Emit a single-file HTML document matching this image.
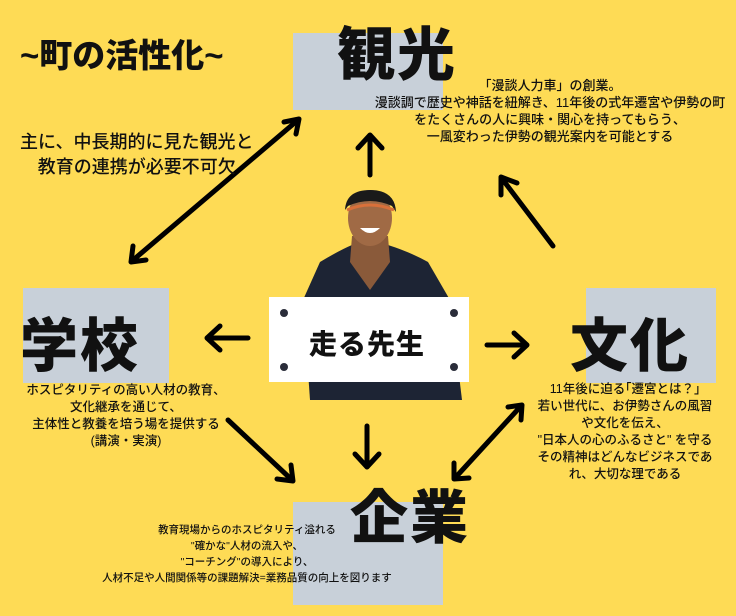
<!DOCTYPE html>
<html><head><meta charset="utf-8"><style>
body{margin:0;width:736px;height:616px;background:#fedb55;position:relative;overflow:hidden;font-family:"Liberation Sans","Noto Sans CJK JP",sans-serif;color:#111}
.g{position:absolute;background:#c8d0d9}
.t{position:absolute;white-space:nowrap}
.big{font-weight:900;font-size:58px;line-height:1;letter-spacing:2px}
.s{font-size:12.5px;line-height:17px;text-align:center;font-weight:500}
</style></head><body>
<div class="g" style="left:293px;top:33px;width:150px;height:77px"></div>
<div class="g" style="left:23px;top:288px;width:146px;height:95px"></div>
<div class="g" style="left:586px;top:288px;width:130px;height:95px"></div>
<div class="g" style="left:293px;top:502px;width:150px;height:103px"></div>

<svg width="736" height="616" style="position:absolute;left:0;top:0">
<path d="M303 300 L320 262 Q340 250 352 245 L388 245 Q410 252 428 262 L450 300 L462 400 L310 400 Z" fill="#1d2434"/>
<path d="M352 236 L388 236 L390 262 L370 290 L350 262 Z" fill="#8a5a3a"/>
<ellipse cx="370" cy="218" rx="22" ry="28" fill="#a06a45"/>
<path d="M345 210 Q346 190 370 190 Q395 190 396 212 L392 206 Q370 196 348 206 Z" fill="#1a1a1a"/>
<path d="M347 210 Q370 200 394 210" stroke="#d9703a" stroke-width="3" fill="none"/>
<path d="M360 228 Q370 238 380 228" fill="#fff"/>
<g stroke="#000" stroke-width="5" fill="none" stroke-linecap="round" stroke-linejoin="round">
<line x1="370" y1="175" x2="370" y2="136"/><polyline points="358,148 370,135 382,148"/>
<line x1="248" y1="338" x2="208" y2="338"/><polyline points="220,326 207,338 220,350"/>
<line x1="487" y1="345" x2="526" y2="345"/><polyline points="514,333 527,345 514,357"/>
<line x1="367" y1="426" x2="367" y2="466"/><polyline points="355,454 367,467 379,454"/>
<line x1="132" y1="261" x2="298" y2="120"/><polyline points="284,122 299,119 296,134"/><polyline points="133,246 131,262 146,260"/>
<line x1="553" y1="246" x2="503" y2="180"/><polyline points="501,195 501,177 517,183"/>
<line x1="228" y1="420" x2="292" y2="480"/><polyline points="277,479 293,481 291,465"/>
<line x1="455" y1="478" x2="521" y2="406"/><polyline points="508,407 522,405 521,420"/><polyline points="454,463 454,479 469,478"/>
</g>
</svg>

<div style="position:absolute;left:269px;top:297px;width:200px;height:85px;background:#fff"></div>
<svg width="736" height="616" style="position:absolute;left:0;top:0">
<g fill="#2a2d3a"><circle cx="284" cy="313" r="4"/><circle cx="454" cy="313" r="4"/><circle cx="284" cy="367" r="4"/><circle cx="454" cy="367" r="4"/></g>
</svg>
<div class="t" style="left:309px;top:323px;font-size:28px;font-weight:900;letter-spacing:1px">走る先生</div>

<div class="t" style="left:20px;top:29px;font-size:33px;font-weight:900">~町の活性化~</div>
<div class="t" style="left:20px;top:130px;font-size:18px;line-height:25px;text-align:center;font-weight:500">主に、中長期的に見た観光と<br>教育の連携が必要不可欠</div>

<div class="t big" style="left:337px;top:27px">観光</div>
<div class="t big" style="left:20px;top:318px">学校</div>
<div class="t big" style="left:570px;top:318px">文化</div>
<div class="t big" style="left:350px;top:490px">企業</div>

<div class="t s" style="left:364px;top:77px;width:372px;font-size:13px">「漫談人力車」の創業。<br>漫談調で歴史や神話を紐解き、11年後の式年遷宮や伊勢の町<br>をたくさんの人に興味・関心を持ってもらう、<br>一風変わった伊勢の観光案内を可能とする</div>
<div class="t s" style="left:6px;top:382px;width:240px">ホスピタリティの高い人材の教育、<br>文化継承を通じて、<br>主体性と教養を培う場を提供する<br>(講演・実演)</div>
<div class="t s" style="left:530px;top:381px;width:190px">11年後に迫る｢遷宮とは？｣<br>若い世代に、お伊勢さんの風習<br>や文化を伝え、<br>"日本人の心のふるさと" を守る<br>その精神はどんなビジネスであ<br>れ、大切な理である</div>
<div class="t s" style="left:102px;top:522px;width:290px;font-size:10.5px;line-height:16px">教育現場からのホスピタリティ溢れる<br>"確かな"人材の流入や、<br>"コーチング"の導入により、<br>人材不足や人間関係等の課題解決=業務品質の向上を図ります</div>
</body></html>
